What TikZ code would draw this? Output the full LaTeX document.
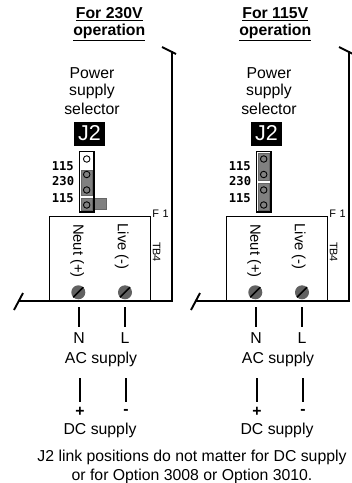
\documentclass[tikz,border=0pt]{standalone}
\usepackage{fontspec}
\setmainfont{Liberation Sans}
\newfontfamily\pinfont{DejaVu Sans Mono}
\tikzset{
 lbl/.style={inner sep=0pt,font=\fontsize{15.8}{17}\selectfont},
 head/.style={inner sep=0pt,font=\fontsize{15.8}{17}\selectfont\bfseries},
 vlbl/.style={inner sep=0pt,rotate=-90,font=\fontsize{14.8}{16}\selectfont},
 tinylbl/.style={inner sep=0pt,font=\fontsize{10.9}{12}\selectfont},
 pinlbl/.style={inner sep=0pt,anchor=east,font=\fontsize{12.2}{12}\pinfont\bfseries},
 wall/.style={line width=1.9pt},
 thin box/.style={line width=0.7pt},
 wire/.style={line width=1.6pt},
 pin/.style={circle,draw=black,line width=0.9pt,minimum size=6.5pt,inner sep=0pt},
 screw/.style={circle,fill=black!62,minimum size=14pt,inner sep=0pt},
 link/.style={fill=black!50,draw=black!60,line width=0.3pt},
}
\newcommand{\panelbase}[4]{%
 \begin{scope}[xshift=#1pt]
  \node[head] (#2h1) at (#4,14) {\underline{For #3}};
  \node[head] (#2h2) at (#4,32) {\underline{operation}};
  \coordinate (#2a) at (162,47); \coordinate (#2b) at (176,54);
  \coordinate (#2c) at (172.3,51); \coordinate (#2d) at (172.3,301);
  \coordinate (#2e) at (19,301); \coordinate (#2f) at (14,310); \coordinate (#2g) at (23,293);
  \draw[wall] (#2a) -- (#2b);
  \draw[wall] (#2c) -- (#2d) -- (#2e);
  \draw[wall] (#2f) -- (#2g);
  \coordinate (#2t1) at (49.5,216); \coordinate (#2t2) at (150.5,216);
  \coordinate (#2t3) at (49.5,301); \coordinate (#2t4) at (150.5,301);
  \draw[thin box] (#2t3) -- (#2t1) -- (#2t2) -- (#2t4);
  \node[lbl] (#2p1) at (92,73) {Power};
  \node[lbl] (#2p2) at (92,91) {supply};
  \node[lbl] (#2p3) at (92,109) {selector};
  \node[fill=black,text=white,minimum width=31pt,minimum height=24pt,inner sep=0pt,
    font=\fontsize{21.5}{22}\selectfont] (#2j) at (89.5,133.5) {J2};
  \node[tinylbl] (#2f1) at (160.5,214) {F\,\,1};
  \node[tinylbl,rotate=-90] (#2tb) at (156.7,252) {TB4};
  \node[vlbl] (#2n) at (77.3,251) {Neut (+)};
  \node[vlbl] (#2l) at (121.7,246.7) {Live (-)};
  \node[screw] (#2s1) at (78.3,292.3) {};
  \node[screw] (#2s2) at (125,292.3) {};
  \draw[line width=1.6pt] (#2s1.south west) -- (#2s1.north east);
  \draw[line width=1.6pt] (#2s2.south west) -- (#2s2.north east);
  \coordinate (#2w1) at (79,307); \coordinate (#2w2) at (79,327);
  \coordinate (#2w3) at (125,307); \coordinate (#2w4) at (125,327);
  \draw[wire] (#2w1) -- (#2w2); \draw[wire] (#2w3) -- (#2w4);
  \node[lbl] (#2N) at (79,338) {N};
  \node[lbl] (#2L) at (125,338) {L};
  \node[lbl] (#2ac) at (101,359) {AC supply};
  \coordinate (#2w5) at (80,378); \coordinate (#2w6) at (80,402);
  \coordinate (#2w7) at (126,378); \coordinate (#2w8) at (126,402);
  \draw[wire] (#2w5) -- (#2w6); \draw[wire] (#2w7) -- (#2w8);
  \node[lbl] (#2plus) at (80,412) {\textbf{+}};
  \node[lbl] (#2minus) at (126,412) {\textbf{-}};
  \node[lbl] (#2dc) at (100,430) {DC supply};
  \node[pinlbl] (#2q1) at (74,165.7) {115};
  \node[pinlbl] (#2q2) at (74.3,181.3) {230};
  \node[pinlbl] (#2q3) at (74,198) {115};
 \end{scope}}
\newcommand{\panelpins}[2]{%
 \begin{scope}[xshift=#1pt]
  \draw[line width=1.5pt] (79.5,151.5) rectangle (94,212);
  \node[pin] (#2x1) at (86.7,159) {};
  \node[pin] (#2x2) at (86.7,174.5) {};
  \node[pin] (#2x3) at (86.7,190) {};
  \node[pin] (#2x4) at (86.7,205) {};
 \end{scope}}
\begin{document}
\begin{tikzpicture}[x=1pt,y=-1pt]
 \useasboundingbox (0,0) rectangle (352,483);
 \fill[white] (0,0) rectangle (352,483);
 \panelbase{0}{A}{230V}{109.3}
 \panelbase{177}{B}{115V}{98.3}
 \draw[link] (81.5,170) rectangle (92,195);
 \draw[link] (81.5,198) rectangle (92,210);
 \draw[link] (92,198) rectangle (106,209);
 \panelpins{0}{A}
 \begin{scope}[xshift=177pt]
  \draw[link] (81.5,153) rectangle (92,180);
  \draw[link] (81.5,183) rectangle (92,210);
 \end{scope}
 \panelpins{177}{B}
 \node[lbl] (note1) at (192,457) {J2 link positions do not matter for DC supply};
 \node[lbl] (note2) at (192,476) {or for Option 3008 or Option 3010.};
\end{tikzpicture}
\end{document}
